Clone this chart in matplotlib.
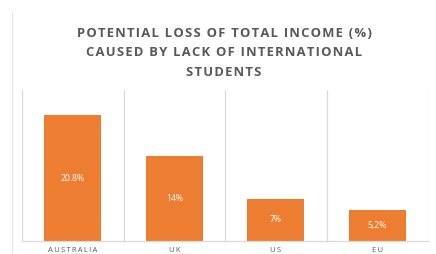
import matplotlib
matplotlib.use("Agg")
import matplotlib.pyplot as plt
from matplotlib.lines import Line2D

categories = ["AUSTRALIA", "UK", "US", "EU"]
values = [20.8, 14, 7, 5.2]
value_labels = ["20.8%", "14%", "7%", "5,2%"]
title_lines = ["POTENTIAL LOSS OF TOTAL INCOME (%)", "CAUSED BY LACK OF INTERNATIONAL", "STUDENTS"]

ORANGE = "#ED7D31"
GRID = "#D9D9D9"
TEXT = "#595959"


def spaced(s, sep="\u2009"):
    return sep.join(s)


fig = plt.figure(figsize=(4.36, 2.54), dpi=100)
W, H = 436, 254
ax = fig.add_axes([22 / W, 1 - 241 / H, (428 - 22) / W, (241 - 90) / H])

x = list(range(len(categories)))
ax.bar(x, values, width=0.56, color=ORANGE, zorder=2)
for xi, v, lab in zip(x, values, value_labels):
    ax.text(xi, v / 2, lab, ha="center", va="center", color="white", fontsize=6.2,
            family="Open Sans", zorder=3)

ax.set_xlim(-0.5, len(categories) - 0.5)
ax.set_ylim(0, 25)
for b in [i - 0.5 for i in range(len(categories) + 1)]:
    ax.axvline(b, color=GRID, linewidth=0.9, zorder=1)

for s in ["top", "right", "left"]:
    ax.spines[s].set_visible(False)
ax.spines["bottom"].set_color(GRID)
ax.spines["bottom"].set_linewidth(0.9)
ax.set_yticks([])
ax.set_xticks(x)
ax.set_xticklabels([spaced(c) for c in categories], fontsize=5.5, color=TEXT, family="Open Sans")
ax.tick_params(axis="x", length=0, pad=4)

# outer slide border line
fig.add_artist(Line2D([12 / W, 12 / W], [0, 1 - 12 / H], color="#E6E6E6", linewidth=1.0))

for i, line in enumerate(title_lines):
    fig.text(224 / W, 1 - (33.5 + 19.5 * i) / H, spaced(line, "\u200a"), ha="center", va="center",
             fontsize=9.4, fontweight="bold", color=TEXT, family=["Open Sans", "DejaVu Sans"])

fig.savefig("out.png", dpi=100)
